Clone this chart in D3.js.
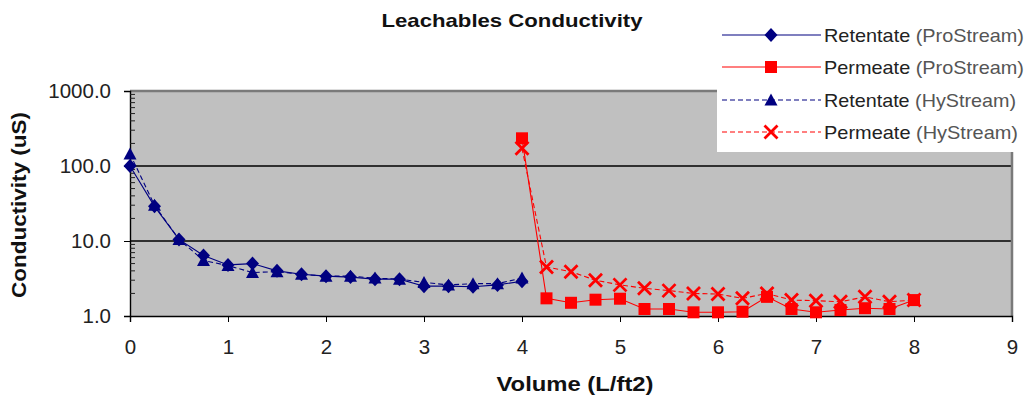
<!DOCTYPE html>
<html><head><meta charset="utf-8">
<script src="https://cdn.jsdelivr.net/npm/d3@7"></script>
<style>body{margin:0;background:#fff}svg{display:block}text{font-family:"Liberation Sans",Arial,sans-serif}</style>
</head><body>
<svg id="c" width="1026" height="404"></svg>
<script>
const xRet = [0,0.25,0.5,0.75,1,1.25,1.5,1.75,2,2.25,2.5,2.75,3,3.25,3.5,3.75,4];
const retentatePro = [100,29,10.5,6.4,4.8,5.0,4.0,3.6,3.4,3.3,3.1,3.1,2.5,2.5,2.45,2.6,2.9];
const retentateHy  = [145,30,10.5,5.5,4.7,3.8,3.9,3.6,3.4,3.4,3.2,3.1,2.8,2.6,2.7,2.7,3.2];
const xPerm = [4,4.25,4.5,4.75,5,5.25,5.5,5.75,6,6.25,6.5,6.75,7,7.25,7.5,7.75,8];
const permeatePro = [234,1.72,1.5,1.65,1.7,1.24,1.24,1.12,1.12,1.14,1.8,1.24,1.12,1.2,1.27,1.24,1.63];
const permeateHy  = [172,4.5,3.9,3.0,2.6,2.34,2.18,2.0,1.96,1.72,2.0,1.63,1.6,1.55,1.8,1.55,1.63];
const xTicks = [0,1,2,3,4,5,6,7,8,9];
const yTicks = [1,10,100,1000];
const seriesNames = [["Retentate","(ProStream)"],["Permeate","(ProStream)"],["Retentate","(HyStream)"],["Permeate","(HyStream)"]];

const svg = d3.select("#c");
const L=130,R=1012,T=91,B=316;
const x = d3.scaleLinear().domain([0,9]).range([L,R]);
const y = d3.scaleLog().domain([1,1000]).range([B,T]);

svg.append("rect").attr("x",L).attr("y",T).attr("width",R-L).attr("height",B-T).attr("fill","#c0c0c0");
svg.append("g").selectAll("line").data([10,100]).join("line")
  .attr("x1",L).attr("x2",R).attr("y1",d=>y(d)).attr("y2",d=>y(d)).attr("stroke","#000").attr("stroke-width",1.4);
svg.append("path").attr("d",`M${L},${T}H${R}V${B}`).attr("fill","none").attr("stroke","#7a7a7a").attr("stroke-width",2.5);

// y axis
const ya = d3.axisLeft(y).tickValues(yTicks).tickFormat(d3.format(".1f")).tickSize(6).tickPadding(13);
const gy = svg.append("g").attr("transform",`translate(${L},0)`).call(ya);
gy.select(".domain").attr("stroke","#000").attr("stroke-width",1.4);
gy.selectAll("text").attr("font-size",20.5).attr("fill","#222");
const minor=[];
for (let d=1; d<1000; d*=10) for (let k=2;k<10;k++) minor.push(d*k);
svg.append("g").selectAll("line").data(minor).join("line")
  .attr("x1",L).attr("x2",L+5).attr("y1",d=>y(d)).attr("y2",d=>y(d)).attr("stroke","#222").attr("stroke-width",1);

// x axis
const xa = d3.axisBottom(x).tickValues(xTicks).tickFormat(d3.format("d")).tickSize(6).tickPadding(17);
const gx = svg.append("g").attr("transform",`translate(0,${B})`).call(xa);
gx.select(".domain").attr("stroke","#000").attr("stroke-width",1.4);
gx.selectAll("text").attr("font-size",20.5).attr("fill","#222");

// titles
svg.append("text").attr("x",512).attr("y",27).attr("text-anchor","middle").attr("font-weight","bold").attr("font-size",19)
  .attr("textLength",261).attr("lengthAdjust","spacingAndGlyphs").attr("fill","#111").text("Leachables Conductivity");
svg.append("text").attr("x",575).attr("y",391).attr("text-anchor","middle").attr("font-weight","bold").attr("font-size",20)
  .attr("textLength",157).attr("lengthAdjust","spacingAndGlyphs").attr("fill","#111").text("Volume (L/ft2)");
svg.append("text").attr("transform","translate(26,205) rotate(-90)").attr("text-anchor","middle").attr("font-weight","bold").attr("font-size",21)
  .attr("textLength",186).attr("lengthAdjust","spacingAndGlyphs").attr("fill","#111").text("Conductivity (uS)");

const navy="#000080", red="#ff0000";
const line = d3.line().x(d=>x(d[0])).y(d=>y(d[1]));
const series = [
  {xs:xRet, vs:retentatePro, c:navy, dash:null, sym:"diamond"},
  {xs:xPerm, vs:permeatePro, c:red, dash:null, sym:"square"},
  {xs:xRet, vs:retentateHy, c:navy, dash:"5,3", sym:"triangle"},
  {xs:xPerm, vs:permeateHy, c:red, dash:"5,3", sym:"x"},
];
function drawMarker(g, s){
  if (s.sym==="x"){
    g.append("path").attr("d","M-6.5,-6.5L6.5,6.5M-6.5,6.5L6.5,-6.5").attr("stroke",s.c).attr("stroke-width",2.8).attr("fill","none");
  } else if (s.sym==="diamond"){
    g.append("path").attr("d","M0,-7L6.5,0L0,7L-6.5,0Z").attr("fill",s.c);
  } else if (s.sym==="square"){
    g.append("rect").attr("x",-6).attr("y",-6).attr("width",12).attr("height",12).attr("fill",s.c);
  } else {
    g.append("path").attr("d","M0,-6.5L6.5,5.5L-6.5,5.5Z").attr("fill",s.c);
  }
}
[3,2,1,0].forEach(i=>{
  const s=series[i];
  const pts = s.xs.map((v,j)=>[v,s.vs[j]]);
  svg.append("path").datum(pts).attr("d",line).attr("fill","none").attr("stroke",s.c).attr("stroke-width",1.1)
    .attr("stroke-dasharray",s.dash);
  pts.forEach(p=>{
    const g=svg.append("g").attr("transform",`translate(${x(p[0])},${y(p[1])})`);
    drawMarker(g,s);
  });
});

// legend
svg.append("rect").attr("x",717).attr("y",18).attr("width",309).attr("height",134).attr("fill","#fff");
const ly=[35,67,100,132];
const lw=[200,200,192,194];
series.forEach((s,i)=>{
  svg.append("line").attr("x1",722).attr("x2",821).attr("y1",ly[i]).attr("y2",ly[i]).attr("stroke",s.c).attr("stroke-width",1.1).attr("stroke-dasharray",s.dash);
  const g=svg.append("g").attr("transform",`translate(771,${ly[i]})`);
  drawMarker(g,s);
  const t=svg.append("text").attr("x",824).attr("y",ly[i]+6.5).attr("font-size",18.5)
    .attr("textLength",lw[i]).attr("lengthAdjust","spacingAndGlyphs");
  t.append("tspan").attr("fill","#222").text(seriesNames[i][0]+" ");
  t.append("tspan").attr("fill","#555").text(seriesNames[i][1]);
});
</script>
</body></html>
